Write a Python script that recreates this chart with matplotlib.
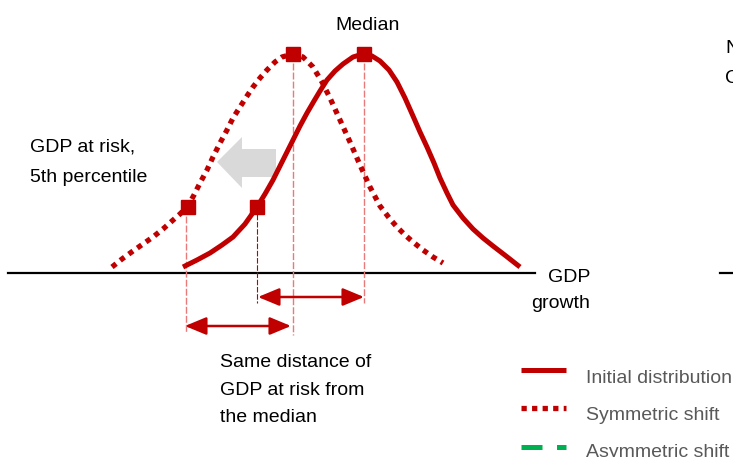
import matplotlib.pyplot as plt
from matplotlib import font_manager
from matplotlib.patches import Polygon

# the original uses a narrow Arial-like face; take a narrow one if it is there
names = {f.name for f in font_manager.fontManager.ttflist}
if 'Liberation Sans Narrow' in names:
    plt.rcParams['font.family'] = ['Liberation Sans Narrow', 'DejaVu Sans']
    fs = 16
else:
    plt.rcParams['font.family'] = ['Liberation Sans', 'DejaVu Sans']
    fs = 14

RED = '#c00000'
PINK = '#e87a7a'
GREEN = '#00b050'

# curves: x position, height above the GDP axis
initial_x = [183, 197, 210, 222, 233, 245, 257, 265, 273, 283, 293, 300, 307, 314, 320,
             327, 335, 343, 353, 363, 372, 380, 389, 397, 405, 413, 420, 427, 434, 440,
             447, 453, 463, 473, 483, 493, 506, 520]
initial_y = [6, 13, 20, 28, 36, 49, 66, 79, 93, 113, 133, 147, 160, 172, 182,
             193, 202, 209, 216, 219, 217, 212, 203, 191, 175, 157, 141, 126, 110, 95,
             80, 68, 55, 44, 35, 27, 17, 6]

symmetric_x = [112, 122, 133, 143, 153, 163, 172, 180, 188, 194, 200, 207, 213, 220, 227,
               233, 240, 247, 253, 260, 267, 275, 282, 293, 303, 313, 322, 330, 340, 350,
               360, 370, 380, 390, 397, 405, 413, 423, 433, 443]
symmetric_y = [6, 14, 22, 29, 36, 44, 52, 59, 67, 78, 90, 103, 116, 130, 143,
               155, 166, 177, 186, 195, 203, 211, 216, 219, 216, 206, 191, 175, 153, 131,
               108, 86, 67, 54, 46, 38, 31, 23, 16, 10]

# key points: GDP at risk and median for both distributions
marker_x = [188, 257, 293, 364]
marker_y = [66, 66, 219, 219]

fig = plt.figure(figsize=(7.33, 4.57), dpi=100)
ax = fig.add_axes([0, 0, 1, 1])
ax.set_xlim(0, 733)
ax.set_ylim(-184, 273)
ax.axis('off')

# GDP axis
ax.plot([8, 535], [0, 0], color='black', lw=1.6)
ax.plot([720, 733], [0, 0], color='black', lw=1.6)

# guide lines
ax.plot([186, 186], [66, -59], color=PINK, lw=1, dashes=(5, 1.5))
ax.plot([293, 293], [219, -62], color=PINK, lw=1, dashes=(5, 1.5))
ax.plot([364, 364], [219, -30], color=PINK, lw=1, dashes=(5, 1.5))
ax.plot([257, 257], [66, -30], color=RED, lw=0.8, dashes=(5, 1.5))

# shift arrow
ax.add_patch(Polygon([(217, 111), (242, 136), (242, 124), (276, 124), (276, 96),
                      (242, 96), (242, 85)], closed=True, color='#d9d9d9', lw=0, zorder=1))

ax.plot(symmetric_x, symmetric_y, color=RED, lw=3.8, dashes=(1, 1),
        dash_capstyle='butt', zorder=3)
ax.plot(initial_x, initial_y, color=RED, lw=3.6, solid_joinstyle='round',
        solid_capstyle='butt', zorder=3)
ax.plot(marker_x, marker_y, ls='none', marker='s', ms=10.5, color=RED, zorder=4)

# distance arrows
aprops = dict(arrowstyle='<|-|>,head_length=0.65,head_width=0.27', mutation_scale=20,
              color=RED, lw=1.8, shrinkA=0, shrinkB=0)
ax.annotate('', xy=(364, -24), xytext=(258, -24), arrowprops=aprops)
ax.annotate('', xy=(291, -53), xytext=(185, -53), arrowprops=aprops)

ax.text(368, 243, 'Median', ha='center', va='baseline', fontsize=fs)
ax.text(30, 121, 'GDP at risk,', va='baseline', fontsize=fs)
ax.text(30, 91, '5th percentile', va='baseline', fontsize=fs)
ax.text(548, -9, 'GDP', va='baseline', fontsize=fs)
ax.text(531, -35, 'growth', va='baseline', fontsize=fs)
ax.text(220, -94, 'Same distance of', va='baseline', fontsize=fs)
ax.text(220, -122, 'GDP at risk from', va='baseline', fontsize=fs)
ax.text(220, -149, 'the median', va='baseline', fontsize=fs)
ax.text(725, 220, 'N', va='baseline', fontsize=fs)
ax.text(725, 190, 'C', va='baseline', fontsize=fs)

# legend
ax.plot([521, 566], [-97, -97], color=RED, lw=3.6, solid_capstyle='butt')
ax.plot([521, 566], [-135, -135], color=RED, lw=3.8, dashes=(1, 1), dash_capstyle='butt')
ax.plot([521, 566], [-174, -174], color=GREEN, lw=3.6, dashes=(4.2, 2.9))
labels = ['Initial distribution', 'Symmetric shift', 'Asymmetric shift']
for i, lab in enumerate(labels):
    ax.text(586, -110 - 37 * i, lab, va='baseline', fontsize=fs, color='#595959')

fig.savefig('out.png', dpi=100)
